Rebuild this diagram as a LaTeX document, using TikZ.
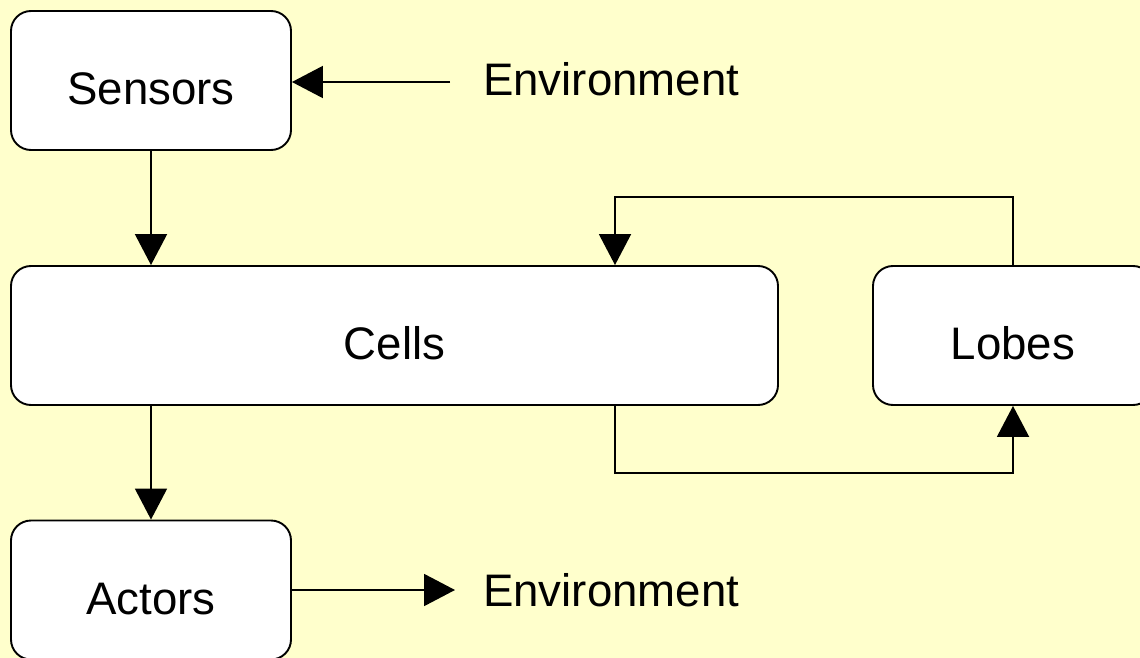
\documentclass[tikz,border=0pt]{standalone}
\usepackage{fontspec}
\setmainfont{Liberation Sans}
\usetikzlibrary{arrows.meta}
\definecolor{bgyellow}{RGB}{255,255,204}
\begin{document}
\begin{tikzpicture}[x=1pt,y=-1pt,
  box/.style={draw=black, fill=white, line width=1.9pt, rounded corners=20pt,
    minimum height=139pt, text height=48pt, text depth=0pt, inner sep=0pt,
    font=\fontsize{45.6}{54}\selectfont},
  lbl/.style={inner sep=0pt, font=\fontsize{45.6}{54}\selectfont},
  arr/.style={draw=black, line width=1.9pt, -{Triangle[length=31pt,width=32pt]}},
  ln/.style={draw=black, line width=1.9pt}]
\fill[bgyellow] (0,0) rectangle (1140,658);
\useasboundingbox (0,0) rectangle (1140,658);
\begin{scope}
\clip (0,0) rectangle (1140,658);
\node[box, minimum width=280pt] (sensors) at (151,80.5) {Sensors};
\node[box, minimum width=767pt] (cells) at (394.5,335.5) {Cells};
\node[box, minimum width=280pt] (lobes) at (1013,335.5) {Lobes};
\node[box, minimum width=280pt] (actors) at (151,590) {Actors};
\end{scope}
\node[lbl, anchor=base west] (envtop) at (483,96) {Environment};
\node[lbl, anchor=base west] (envbot) at (483,606) {Environment};
\coordinate (e1) at (450,82);
\coordinate (e2) at (455,590);
\coordinate (fb) at (615,197);
\coordinate (fb2) at (615,473);
\draw[arr] (e1) -- (sensors.east |- e1);
\draw[arr] (actors.east |- e2) -- (e2);
\draw[arr] (sensors.south) -- (sensors.south |- cells.north);
\draw[arr] (actors.north |- cells.south) -- (actors.north);
\draw[arr] (lobes.north) |- (fb) -- (fb |- cells.north);
\draw[arr] (fb |- cells.south) -- (fb2) -| (lobes.south);
\end{tikzpicture}
\end{document}
